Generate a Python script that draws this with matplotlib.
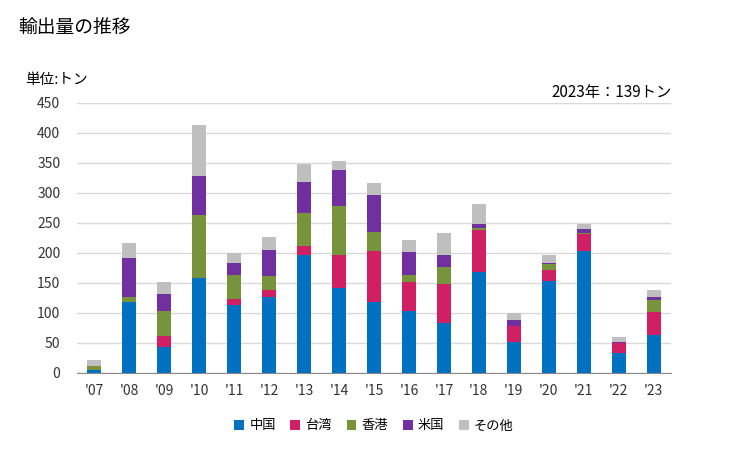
import numpy as np
import matplotlib.pyplot as plt

plt.rcParams['font.family'] = ['Noto Sans CJK JP', 'DejaVu Sans']

years = ["'07", "'08", "'09", "'10", "'11", "'12", "'13", "'14", "'15",
         "'16", "'17", "'18", "'19", "'20", "'21", "'22", "'23"]
# 累積値から読み取った各国の数量（トン）
china = [5.6, 119, 43, 159, 113, 127, 196, 141, 119, 104, 83, 169, 51, 153, 203, 33, 64]
taiwan = [0, 0, 18, 0, 10, 12, 15, 55, 85, 47, 66, 70, 27, 18, 28, 17, 37]
hongkong = [5.4, 8, 42, 105, 40, 23, 56, 83, 31, 13, 28, 2, 0, 10, 2, 0, 20]
usa = [0, 65, 29, 65, 20, 43, 52, 59, 62, 38, 19, 7, 10, 2, 7, 1, 5]
other = [11, 24, 20, 85, 17, 22, 30, 15, 20, 19, 38, 34, 12, 13, 8, 9, 13]

series = [('中国', china, '#0070C0'), ('台湾', taiwan, '#D01F62'),
          ('香港', hongkong, '#77933C'), ('米国', usa, '#7030A0'),
          ('その他', other, '#BFBFBF')]

fig = plt.figure(figsize=(7.29, 4.5), dpi=100)
ax = fig.add_axes([77 / 729, 1 - 373 / 450, 594 / 729, 270 / 450])

x = np.arange(len(years))
bottom = np.zeros(len(years))
for name, vals, col in series:
    ax.bar(x, vals, 0.4, bottom=bottom, color=col, label=name, zorder=3)
    bottom += np.array(vals)

ax.set_xlim(-0.5, len(years) - 0.5)
ax.set_ylim(0, 450)
ax.set_yticks(np.arange(0, 451, 50))
ax.set_xticks(x)
ax.set_xticklabels(years)
ax.yaxis.grid(True, color='#D9D9D9', lw=1, zorder=0)
for s in ['top', 'right', 'left']:
    ax.spines[s].set_visible(False)
ax.spines['bottom'].set_color('#898989')
ax.tick_params(axis='both', length=0, labelsize=10, colors='#333333')
ax.tick_params(axis='y', pad=12)
ax.tick_params(axis='x', pad=8)

fig.text(18 / 729, 1 - 27 / 450, '輸出量の推移', fontsize=13.5, va='center', ha='left')
fig.text(25 / 729, 1 - 80 / 450, '単位:トン', fontsize=10.5, va='center', ha='left')
fig.text(672 / 729, 1 - 92 / 450, '2023年：139トン', fontsize=11, va='center', ha='right')

ax.legend(loc='center', bbox_to_anchor=(0.5, (373 - 426) / 270), ncol=5, frameon=False,
          fontsize=9.5, handlelength=0.75, handleheight=0.75, handletextpad=0.4,
          columnspacing=1.1)

fig.savefig('out.png', dpi=100)
